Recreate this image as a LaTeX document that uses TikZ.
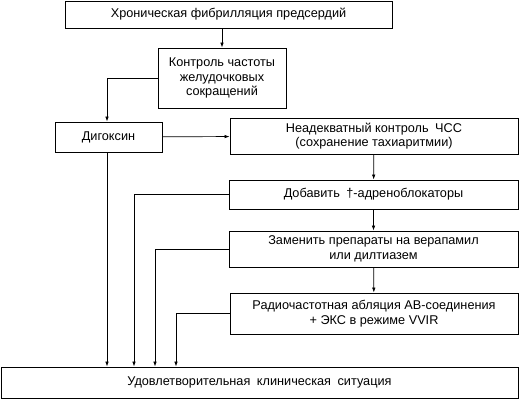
\documentclass[tikz,border=0pt]{standalone}
\usepackage{fontspec}
\setmainfont{Liberation Sans}
\usepackage{tikz}
\usetikzlibrary{arrows.meta,positioning,calc}

\begin{document}
\begin{tikzpicture}[
            x=1pt, y=-1pt,
            font=\fontsize{12.7}{14.5}\selectfont,
            >={Latex[length=5pt,width=3.5pt]},
            % --- node styles ---
            box/.style={
                draw, line width=0.8pt,
                align=center, inner sep=2pt
            },
            % --- edge style ---
            arr/.style={->, line width=0.7pt}
        ]

        \useasboundingbox (0,0) rectangle (519,400);

        % ============================================================
        %  Layout in pixels of the 519x400 reference (y downwards).
        %  Left column: Digoxin; right column: escalation chain.
        % ============================================================

        % --- Row 0: start ---
        \node[box, minimum width=327pt, minimum height=27pt] (afib) at (228.5, 14.5)
            {Хроническая фибрилляция предсердий};

        \node[box, minimum width=128pt, minimum height=60pt] (ratectl) at (222, 78)
            {Контроль частоты\\желудочковых\\сокращений};

        % --- Left column ---
        \node[box, minimum width=107pt, minimum height=30pt] (digox) at (108.5, 137)
            {Дигоксин};

        % --- Right column: escalation chain ---
        \node[box, minimum width=288pt, minimum height=36pt] (inadeq) at (374, 136)
            {Неадекватный контроль\hspace{3pt} ЧСС\\(сохранение тахиаритмии)};

        \node[box, minimum width=289pt, minimum height=29pt] (betabl) at (373.5, 194.5)
            {Добавить\hspace{3pt} †-адреноблокаторы};

        \node[box, minimum width=289pt, minimum height=36pt] (verap) at (373.5, 249)
            {Заменить препараты на верапамил\\или дилтиазем};

        \node[box, minimum width=288pt, minimum height=41pt] (ablat) at (374, 313.5)
            {Радиочастотная абляция АВ-соединения\\+ ЭКС в режиме VVIR};

        % --- Bottom: outcome ---
        \node[box, minimum width=517pt, minimum height=31pt] (result) at (259.5, 382.5)
            {Удовлетворительная\hspace{3pt} клиническая\hspace{3pt} ситуация};

        % ===== Arrows: main path =====
        \draw[arr] (afib.south -| ratectl) -- (ratectl);
        \draw[arr] (ratectl.west) -| (digox.north -| 107,0);
        \draw[arr] (digox) -- (inadeq);

        % ===== Arrows: escalation chain =====
        \draw[arr] (inadeq) -- (betabl);
        \draw[arr] (betabl) -- (verap);
        \draw[arr] (verap) -- (ablat);

        % ===== Arrows: into outcome =====
        \draw[arr] (digox.south -| 107,0) -- (result.north -| 107,0);
        \draw[arr] (betabl.west) -| (result.north -| 134,0);
        \draw[arr] (verap.west) -| (result.north -| 155,0);
        \draw[arr] (ablat.west) -| (result.north -| 176,0);

\end{tikzpicture}
\end{document}
